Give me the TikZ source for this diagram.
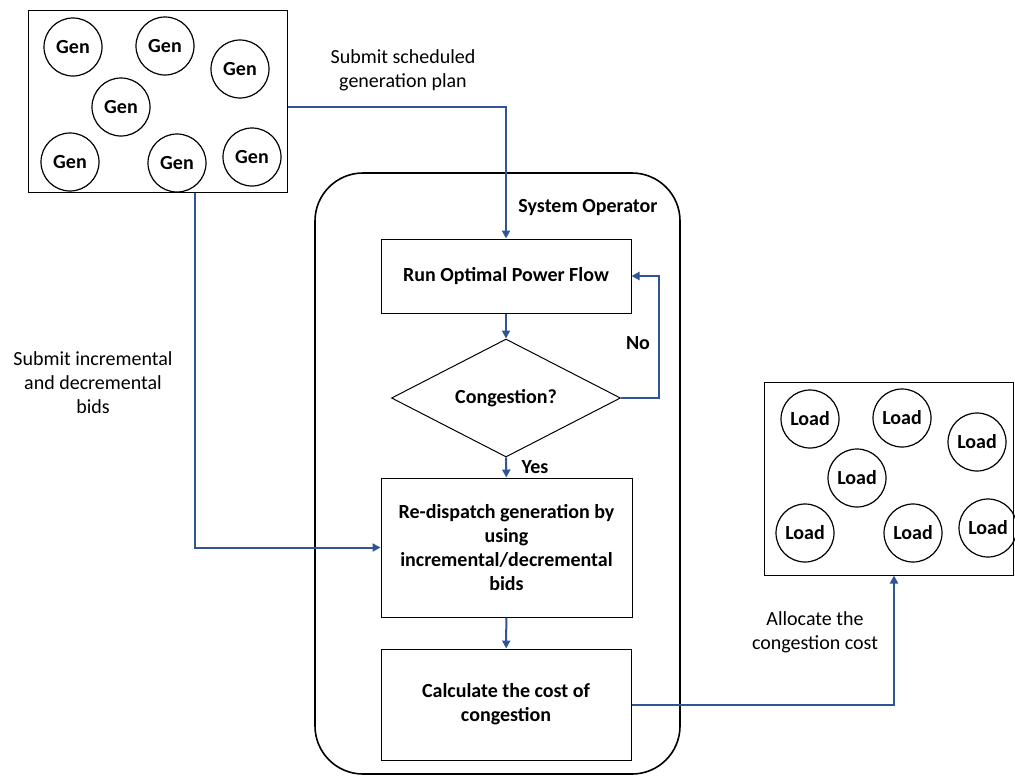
\documentclass[tikz,border=0pt]{standalone}
\usepackage{fontspec}
\setmainfont{Carlito}
\usepackage{xcolor}
\usetikzlibrary{shapes.geometric, arrows.meta}
\definecolor{flowblue}{RGB}{47,85,151}

\begin{document}
\begin{tikzpicture}[x=0.5pt, y=-0.5pt,
	unit/.style={circle, draw, line width=0.6pt, minimum size=29pt, inner sep=0pt, font=\bfseries},
	group/.style={draw, line width=0.5pt},
	stepbox/.style={draw, line width=0.5pt, align=center, font=\bfseries},
	flow/.style={draw=flowblue, line width=1pt, -{Triangle[length=4pt, width=4pt]}},
	note/.style={align=center}]
	\useasboundingbox (0,0) rectangle (1015,776);

	% Generators
	\node[group, minimum width=129.5pt, minimum height=91pt] (genbox) at (157.5, 101) {};
	\node[unit] (gen1) at (73, 47) {Gen};
	\node[unit] (gen2) at (165, 46) {Gen};
	\node[unit] (gen3) at (240, 69) {Gen};
	\node[unit] (gen4) at (121, 107) {Gen};
	\node[unit] (gen5) at (70, 162) {Gen};
	\node[unit] (gen6) at (177, 163) {Gen};
	\node[unit] (gen7) at (252, 157) {Gen};

	% Loads
	\node[group, minimum width=124.5pt, minimum height=96.5pt] (loadbox) at (888.5, 478.5) {};
	\node[unit] (load1) at (810, 419) {Load};
	\node[unit] (load2) at (902, 418) {Load};
	\node[unit] (load3) at (977, 442) {Load};
	\node[unit] (load4) at (857, 478) {Load};
	\node[unit] (load5) at (805, 533) {Load};
	\node[unit] (load6) at (913, 533) {Load};
	\node[unit] (load7) at (988, 528) {Load};

	% System operator
	\node[draw, line width=0.8pt, rounded corners=24pt, minimum width=182.5pt, minimum height=300.5pt] (sysop) at (497.5, 473.5) {};
	\node[font=\bfseries] (sysoplabel) at (588, 208) {System Operator};

	\node[stepbox, minimum width=125pt, minimum height=37pt] (opf) at (506, 276) {Run Optimal Power Flow};
	\node[diamond, draw, line width=0.5pt, aspect=1.94, inner sep=1pt, minimum width=114.5pt, minimum height=59pt, font=\bfseries] (cong) at (506, 398) {Congestion?};
	\node[stepbox, minimum width=125.5pt, minimum height=69.5pt] (redisp) at (506.5, 547.5) {Re-dispatch generation by\\using\\incremental/decremental\\bids};
	\node[stepbox, minimum width=125pt, minimum height=55.5pt] (calc) at (506, 704.5) {Calculate the cost of\\congestion};

	% Corners of the connectors
	\coordinate (sched) at (506, 107);
	\coordinate (noturn) at (659, 398);
	\coordinate (bidturn) at (195, 547.5);
	\coordinate (allocturn) at (894, 704.5);

	% Draw the edges between nodes with labels
	\draw[flow] (genbox.east |- sched) -- (sched) -- (opf.north);
	\draw[flow] (opf) -- (cong);
	\draw[flow] (cong.east) -- (noturn) |- (opf.east);
	\draw[flow] (cong) -- (redisp);
	\draw[flow] (redisp) -- (calc);
	\draw[flow] (genbox.south -| bidturn) -- (bidturn) -- (redisp.west);
	\draw[flow] (calc.east) -- (allocturn) -- (loadbox.south -| allocturn);

	\node[font=\bfseries] (nolabel) at (638, 343) {No};
	\node[font=\bfseries] (yeslabel) at (535, 467) {Yes};
	\node[note] (schedlabel) at (403, 70) {Submit scheduled\\generation plan};
	\node[note] (bidlabel) at (93, 383) {Submit incremental\\and decremental\\bids};
	\node[note] (alloclabel) at (815, 632) {Allocate the\\congestion cost};
\end{tikzpicture}
\end{document}
